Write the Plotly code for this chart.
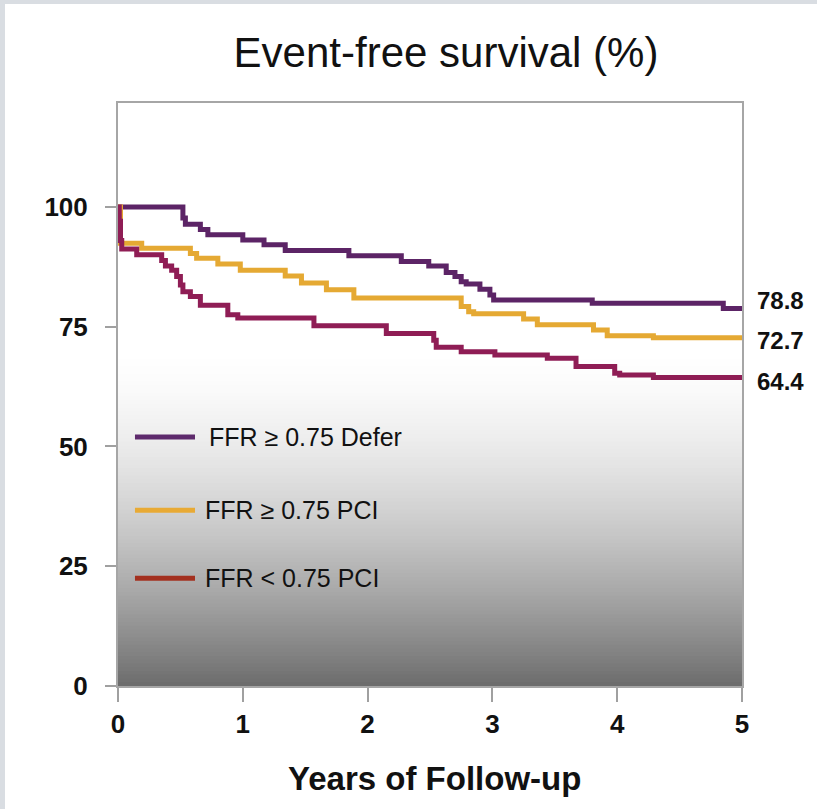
import plotly.graph_objects as go

# ---- data ----
defer_t = [0, 0.52, 0.54, 0.66, 0.72, 1.00, 1.17, 1.34, 1.85, 2.27, 2.49, 2.63, 2.70, 2.75, 2.79,
           2.90, 2.98, 3.01, 3.80, 4.85, 5.0]
defer_s = [100, 97.7, 96.4, 95.3, 94.2, 93.1, 92.1, 90.9, 89.8, 88.6, 87.7, 86.3, 85.5, 84.4, 83.9,
           82.8, 81.6, 80.6, 79.9, 78.8, 78.8]

pci_hi_t = [0, 0.02, 0.19, 0.58, 0.63, 0.80, 0.98, 1.34, 1.47, 1.67, 1.89, 2.75, 2.81, 2.85, 3.25,
            3.36, 3.81, 3.92, 4.29, 5.0]
pci_hi_s = [100, 92.4, 91.4, 90.3, 89.3, 88.1, 86.8, 85.6, 84.1, 82.7, 81.0, 79.2, 78.1, 77.7, 76.6,
            75.4, 74.3, 73.1, 72.7, 72.7]

pci_lo_t = [0, 0.01, 0.02, 0.03, 0.15, 0.35, 0.38, 0.43, 0.47, 0.50, 0.52, 0.58, 0.66, 0.88, 0.96,
            1.57, 2.15, 2.53, 2.55, 2.75, 3.02, 3.44, 3.67, 3.98, 4.02, 4.29, 5.0]
pci_lo_s = [100, 97, 93, 91.2, 90.0, 88.8, 87.7, 86.8, 85.5, 83.7, 82.3, 81.3, 79.5, 77.5, 76.8,
            75.2, 73.6, 72.2, 70.7, 69.8, 69.1, 68.4, 66.7, 65.3, 64.9, 64.4, 64.4]

series_names = ["FFR \u2265 0.75 Defer", "FFR \u2265 0.75 PCI", "FFR < 0.75 PCI"]
final_labels = ["78.8", "72.7", "64.4"]
x_ticks = [0, 1, 2, 3, 4, 5]
y_ticks = [0, 25, 50, 75, 100]

line_colors = ["#5c2466", "#e5a933", "#8f1d55"]
legend_colors = ["#5e2a6c", "#e8aa35", "#a3301f"]
FONT = "Liberation Sans, Arial, sans-serif"

fig = go.Figure()
for t, s, c, n in [(defer_t, defer_s, line_colors[0], series_names[0]),
                   (pci_hi_t, pci_hi_s, line_colors[1], series_names[1]),
                   (pci_lo_t, pci_lo_s, line_colors[2], series_names[2])]:
    fig.add_trace(go.Scatter(x=t, y=s, mode="lines", line=dict(color=c, width=5, shape="hv"),
                             name=n, showlegend=False, hoverinfo="skip"))

shapes = []
# gradient background in lower part of plot (overlapping strips, drawn bottom-up)
top = 70.6
n_strips = 90
for i in range(n_strips):
    y0 = top * i / n_strips
    y1 = top * (i + 1) / n_strips
    f = (y0 + y1) / 2 / top
    g = int(round(255 - 147 * (1 - f) ** 1.6))
    y1o = min(y1 + 0.6, top)
    shapes.append(dict(type="rect", xref="x", yref="y", x0=0, x1=5, y0=y0, y1=y1o,
                       fillcolor=f"rgb({g},{g},{g})", line=dict(width=0), layer="below"))

# page frame strips
frame = "#d9dde2"
shapes.append(dict(type="rect", xref="paper", yref="paper", x0=-0.19, x1=-0.1811, y0=-0.3, y1=1.2,
                   fillcolor=frame, line=dict(width=0), layer="below"))
shapes.append(dict(type="rect", xref="paper", yref="paper", x0=-0.19, x1=1.2, y0=1.1698, y1=1.2,
                   fillcolor=frame, line=dict(width=0), layer="below"))

annotations = []
# manual legend
leg_y = [52.0, 36.7, 22.5]
leg_tx = [0.713, 0.68, 0.68]
for i in range(3):
    shapes.append(dict(type="line", xref="x", yref="y", x0=0.136, x1=0.617, y0=leg_y[i], y1=leg_y[i],
                       line=dict(color=legend_colors[i], width=5)))
    annotations.append(dict(x=leg_tx[i], y=leg_y[i], xref="x", yref="y", text=series_names[i],
                            showarrow=False, xanchor="left", yanchor="middle",
                            font=dict(family=FONT, size=25, color="#111111")))

# end labels
finals = [defer_s[-1], pci_hi_s[-1], pci_lo_s[-1]]
yshifts = [8, -3, -4]
for lab, v, ys in zip(final_labels, finals, yshifts):
    annotations.append(dict(x=5, y=v, xref="x", yref="y", text=f"<b>{lab}</b>", showarrow=False,
                            xanchor="left", yanchor="middle", xshift=13, yshift=ys,
                            font=dict(family=FONT, size=24, color="#111111")))

# x-axis title
annotations.append(dict(x=0.508, y=-0.1595, xref="paper", yref="paper",
                        text="<b>Years of Follow-up</b>", showarrow=False,
                        xanchor="center", yanchor="middle",
                        font=dict(family=FONT, size=33, color="#111111")))

fig.update_layout(
    width=817, height=809,
    margin=dict(l=118, r=75, t=103, b=123),
    paper_bgcolor="white", plot_bgcolor="white",
    title=dict(text="Event-free survival (%)", x=446 / 817, xanchor="center",
               y=1 - 52 / 809, yanchor="middle",
               font=dict(family=FONT, size=42, color="#111111")),
    shapes=shapes, annotations=annotations,
    showlegend=False,
)
fig.update_layout(title_xref="container")
fig.update_xaxes(range=[0, 5], tickvals=x_ticks, ticktext=[f"<b>{v}</b>" for v in x_ticks],
                 ticks="outside", ticklen=14, tickwidth=1.5, tickcolor="#a0a0a0",
                 showline=True, linecolor="#a6a6a6", linewidth=2, mirror=True,
                 showgrid=False, zeroline=False,
                 tickfont=dict(family=FONT, size=26, color="#111111"), ticklabelstandoff=0)
fig.update_yaxes(range=[0, 121.7], tickvals=y_ticks, ticktext=[f"<b>{v}</b>" for v in y_ticks],
                 ticks="outside", ticklen=11, tickwidth=1.5, tickcolor="#a0a0a0",
                 showline=True, linecolor="#a6a6a6", linewidth=2, mirror=True,
                 showgrid=False, zeroline=False,
                 tickfont=dict(family=FONT, size=26, color="#111111"), ticklabelstandoff=12)

fig.write_html("out.html")
